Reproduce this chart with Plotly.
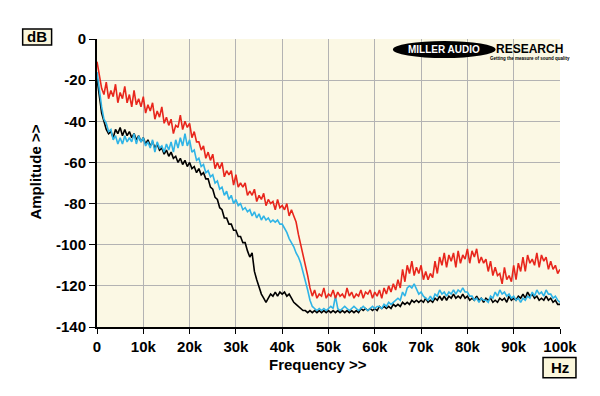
import plotly.graph_objects as go

freq_khz = [i * 0.5 for i in range(201)]

red_db = [
    -11, -18, -24, -27, -21, -29, -25, -28, -22, -31,
    -26, -29, -23, -31, -27, -33, -25, -32, -29, -33,
    -28, -36, -32, -35, -31, -39, -35, -38, -33, -41,
    -38, -42, -39, -46, -42, -43, -37, -44, -40, -43,
    -41, -48, -45, -50, -50, -54, -52, -58, -55, -59,
    -56, -63, -60, -63, -60, -67, -64, -66, -64, -71,
    -66, -72, -70, -72, -70, -76, -74, -76, -73, -79,
    -76, -78, -75, -81, -78, -80, -79, -83, -78, -82,
    -81, -83, -80, -86, -83, -86, -89, -95, -100, -104,
    -109, -115, -121, -125, -122, -126, -124, -125, -121, -126,
    -124, -125, -122, -126, -123, -125, -124, -126, -121, -125,
    -123, -126, -124, -125, -122, -126, -123, -124, -122, -126,
    -123, -125, -122, -126, -121, -124, -120, -123, -119, -122,
    -117, -121, -112, -118, -110, -114, -108, -115, -111, -114,
    -110, -117, -113, -117, -114, -116, -108, -114, -106, -110,
    -104, -111, -105, -108, -104, -111, -103, -109, -105, -107,
    -102, -109, -103, -106, -102, -109, -106, -109, -107, -113,
    -108, -115, -111, -115, -114, -119, -111, -117, -115, -118,
    -110, -117, -109, -113, -106, -113, -105, -109, -107, -110,
    -104, -111, -105, -108, -106, -112, -108, -112, -110, -114,
    -112,
]

blue_db = [
    -16, -25, -33, -39, -41, -45, -44, -49, -47, -51,
    -48, -51, -47, -50, -48, -50, -46, -51, -47, -50,
    -48, -52, -50, -53, -49, -55, -50, -53, -52, -55,
    -51, -54, -50, -55, -49, -53, -48, -52, -46, -52,
    -49, -55, -54, -59, -58, -62, -61, -65, -64, -67,
    -66, -70, -69, -73, -72, -76, -74, -78, -76, -80,
    -78, -81, -80, -83, -82, -84, -83, -86, -84, -87,
    -85, -88, -86, -88, -87, -89, -88, -89, -88, -90,
    -90, -92, -94, -97, -99, -101, -104, -106, -109, -113,
    -117, -122, -127, -130, -131, -132, -131, -132, -131, -132,
    -131, -130, -131, -125, -131, -132, -131, -130, -131, -132,
    -131, -130, -131, -132, -131, -130, -131, -132, -131, -130,
    -131, -130, -130, -131, -129, -130, -128, -129, -128, -127,
    -126, -127, -123, -125, -121, -120, -121, -119, -122, -124,
    -123, -125, -126, -127, -125, -127, -124, -125, -122, -124,
    -123, -125, -123, -124, -122, -124, -122, -123, -121, -123,
    -123, -125, -125, -127, -126, -128, -126, -127, -127, -128,
    -125, -126, -123, -125, -122, -124, -123, -125, -124, -126,
    -125, -127, -126, -128, -126, -127, -125, -126, -123, -125,
    -122, -124, -123, -125, -122, -124, -124, -126, -125, -127,
    -128,
]

black_db = [
    -19, -28, -36, -40, -44, -46, -45, -48, -44, -46,
    -43, -47, -44, -47, -45, -48, -46, -49, -47, -50,
    -48, -51, -49, -52, -50, -53, -51, -54, -53, -56,
    -54, -57, -55, -58, -57, -60, -58, -61, -59, -62,
    -60, -63, -62, -65, -63, -66, -65, -68, -68, -72,
    -73, -77, -78, -82, -83, -87, -87, -90, -90, -93,
    -93, -96, -96, -99, -99, -103, -106, -104, -113, -117,
    -121, -124, -126, -128, -126, -124, -125, -123, -125, -123,
    -124, -123, -125, -124, -126, -128, -129, -130, -131, -132,
    -132, -133, -132, -133, -132, -133, -132, -133, -132, -133,
    -132, -133, -132, -133, -132, -133, -132, -133, -132, -133,
    -132, -133, -132, -133, -131, -132, -131, -132, -131, -132,
    -131, -132, -130, -131, -130, -131, -130, -131, -129, -130,
    -129, -130, -128, -129, -128, -129, -127, -128, -127, -128,
    -127, -128, -126, -128, -127, -128, -126, -127, -125, -127,
    -125, -127, -125, -126, -124, -126, -125, -126, -124, -126,
    -125, -127, -126, -127, -125, -127, -126, -128, -126, -127,
    -126, -128, -127, -128, -126, -127, -126, -128, -125, -127,
    -126, -127, -125, -126, -124, -126, -123, -125, -124, -126,
    -125, -127, -126, -127, -125, -127, -126, -128, -127, -129,
    -129,
]

x_tickvals = [0, 10, 20, 30, 40, 50, 60, 70, 80, 90, 100]
x_ticktext = ["0", "10k", "20k", "30k", "40k", "50k", "60k", "70k", "80k", "90k", "100k"]
y_tickvals = [0, -20, -40, -60, -80, -100, -120, -140]
y_ticktext = ["0", "-20", "-40", "-60", "-80", "-100", "-120", "-140"]

FONT = "Liberation Sans, Arial, sans-serif"
FS = 15

fig = go.Figure()
fig.add_trace(go.Scatter(x=freq_khz, y=black_db, mode="lines",
                         line=dict(color="#000000", width=1.6), showlegend=False))
fig.add_trace(go.Scatter(x=freq_khz, y=blue_db, mode="lines",
                         line=dict(color="#2fb4e6", width=1.6), showlegend=False))
fig.add_trace(go.Scatter(x=freq_khz, y=red_db, mode="lines",
                         line=dict(color="#e8261c", width=1.6), showlegend=False))

fig.update_layout(
    width=600, height=396,
    margin=dict(l=97, r=40, t=39, b=69),
    paper_bgcolor="#ffffff",
    plot_bgcolor="#fbf8e4",
    font=dict(family=FONT, color="#000000"),
    xaxis=dict(range=[0, 100], tickvals=x_tickvals, ticktext=x_ticktext,
               showgrid=True, gridcolor="#b3b3b3", gridwidth=1,
               showline=True, linecolor="#000000", linewidth=2,
               ticks="outside", ticklen=5, tickcolor="#000000",
               tickfont=dict(size=FS, weight="bold", family=FONT),
               zeroline=False, fixedrange=True),
    yaxis=dict(range=[-140, 0], tickvals=y_tickvals, ticktext=y_ticktext,
               showgrid=True, gridcolor="#b3b3b3", gridwidth=1,
               showline=True, linecolor="#000000", linewidth=2,
               ticks="outside", ticklen=6, tickcolor="#000000",
               tickfont=dict(size=FS, weight="bold", family=FONT),
               zeroline=False, fixedrange=True),
)

px_l, px_r, px_t, px_b = 96.5, 560.5, 39.5, 326.5
def px(xp):
    return (xp - px_l) / (px_r - px_l)
def py(yp):
    return (px_b - yp) / (px_b - px_t)

annotations = [
    dict(text="Amplitude &gt;&gt;", x=px(35), y=py(172), xref="paper", yref="paper",
         textangle=-90, showarrow=False, font=dict(size=FS, weight="bold", family=FONT),
         xanchor="center", yanchor="middle"),
    dict(text="Frequency &gt;&gt;", x=px(318), y=py(364), xref="paper", yref="paper",
         showarrow=False, font=dict(size=FS, weight="bold", family=FONT),
         xanchor="center", yanchor="middle"),
    dict(text="dB", x=px(36.5), y=py(37.5), xref="paper", yref="paper",
         showarrow=False, font=dict(size=FS, weight="bold", family=FONT),
         xanchor="center", yanchor="middle"),
    dict(text="Hz", x=px(560), y=py(367), xref="paper", yref="paper",
         showarrow=False, font=dict(size=FS, weight="bold", family=FONT),
         xanchor="center", yanchor="middle"),
    dict(text="MILLER AUDIO", x=px(444), y=py(50), xref="paper", yref="paper",
         showarrow=False, font=dict(size=10, weight="bold", family=FONT, color="#ffffff"),
         xanchor="center", yanchor="middle"),
    dict(text="RESEARCH", x=px(530), y=py(49.5), xref="paper", yref="paper",
         showarrow=False, font=dict(size=12, weight="bold", family=FONT, color="#000000"),
         xanchor="center", yanchor="middle"),
    dict(text="Getting the measure of sound quality", x=px(530), y=py(59), xref="paper", yref="paper",
         showarrow=False, font=dict(size=4.5, weight="bold", family=FONT, color="#000000"),
         xanchor="center", yanchor="middle"),
]

shapes = [
    dict(type="rect", xref="paper", yref="paper", x0=px(22), x1=px(51), y0=py(45.5), y1=py(29.5),
         line=dict(color="#000000", width=1.5), fillcolor="#fbf7dc", layer="below"),
    dict(type="rect", xref="paper", yref="paper", x0=px(543.5), x1=px(576.5), y0=py(377), y1=py(357),
         line=dict(color="#000000", width=1.5), fillcolor="#fbf7dc", layer="below"),
    dict(type="circle", xref="paper", yref="paper", x0=px(393), x1=px(496), y0=py(58.5), y1=py(41.5),
         line=dict(color="#000000", width=0), fillcolor="#000000", layer="above"),
]

fig.update_layout(annotations=annotations, shapes=shapes)
fig.write_html("out.html", config={"displayModeBar": False},
               post_script="document.body.style.margin='0';")
